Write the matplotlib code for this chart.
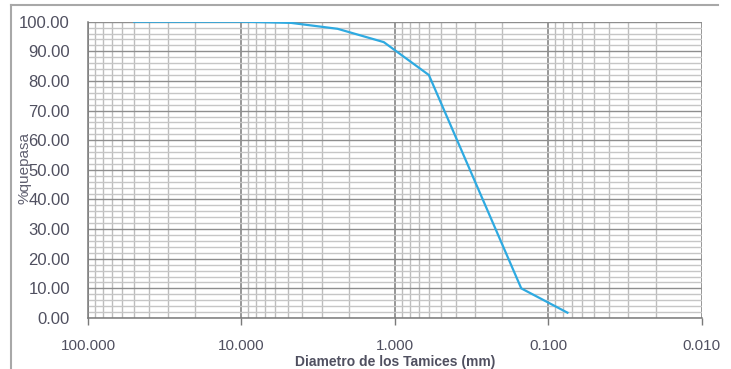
import matplotlib
matplotlib.use("Agg")
import matplotlib.pyplot as plt
from matplotlib.ticker import FixedLocator, FuncFormatter, LogLocator, MultipleLocator
from matplotlib.lines import Line2D

# Sieve opening (mm) and cumulative percentage passing
sieve_mm = [50.0, 38.1, 25.4, 19.05, 12.7, 9.525, 4.75, 2.36, 1.18, 0.6, 0.15, 0.075]
pct_passing = [100.0, 100.0, 100.0, 100.0, 100.0, 100.0, 99.6, 97.6, 93.1, 82.0, 10.0, 1.8]

x_ticks = [100, 10, 1, 0.1, 0.01]
y_ticks = [0, 10, 20, 30, 40, 50, 60, 70, 80, 90, 100]

W, H = 731, 369
fig = plt.figure(figsize=(W / 100, H / 100), dpi=100)
plt.rcParams["font.family"] = ["Liberation Sans", "DejaVu Sans"]

left, right, top, bottom = 88, 701.7, 21.7, 318
ax = fig.add_axes([left / W, 1 - bottom / H, (right - left) / W, (bottom - top) / H])

ax.set_xscale("log")
ax.set_xlim(100, 0.01)
ax.set_ylim(0, 100)

ax.xaxis.set_major_locator(FixedLocator(x_ticks))
ax.xaxis.set_minor_locator(LogLocator(base=10, subs=range(2, 10)))
ax.xaxis.set_major_formatter(FuncFormatter(lambda v, p: f"{v:.3f}"))
ax.xaxis.set_minor_formatter(FuncFormatter(lambda v, p: ""))
ax.yaxis.set_major_locator(FixedLocator(y_ticks))
ax.yaxis.set_minor_locator(MultipleLocator(2))
ax.yaxis.set_major_formatter(FuncFormatter(lambda v, p: f"{v:.2f}"))

# grid
ax.grid(which="major", axis="x", color="#7a7a7a", linewidth=1.1)
ax.grid(which="minor", axis="x", color="#bdbdbd", linewidth=1.0)
ax.grid(which="major", axis="y", color="#8e8e8e", linewidth=1.0)
ax.grid(which="minor", axis="y", color="#c6c6c6", linewidth=1.0)
ax.set_axisbelow(True)

for s in ("top", "right"):
    ax.spines[s].set_visible(False)
for s in ("left", "bottom"):
    ax.spines[s].set_color("#7a7a7a")
    ax.spines[s].set_linewidth(1.1)

ax.tick_params(axis="x", which="major", direction="out", length=5, width=1,
               color="#7a7a7a", pad=10, labelsize=11, labelcolor="#505060")
ax.tick_params(axis="x", which="minor", length=0)
ax.tick_params(axis="y", which="both", length=0, pad=13, labelsize=12,
               labelcolor="#505060")

ax.plot(sieve_mm, pct_passing, color="#2EAAE1", linewidth=1.6, solid_joinstyle="miter")

ax.set_xlabel("Diametro de los Tamices (mm)", fontsize=10, fontweight="bold",
              color="#505060")
ax.xaxis.set_label_coords(0.5, -0.125)
fig.text(25 / W, 1 - 168 / H, "%quepasa", rotation=90, ha="center", va="center",
         fontsize=11, color="#606070")

# outer chart frame
frame_kw = dict(color="#a8a8a8", linewidth=1.5, transform=fig.transFigure)
fig.add_artist(Line2D([11 / W, 718 / W], [1 - 5 / H, 1 - 5 / H], **frame_kw))
fig.add_artist(Line2D([11 / W, 11 / W], [1 - 5 / H, 0], **frame_kw))

fig.savefig("out.png", dpi=100)
